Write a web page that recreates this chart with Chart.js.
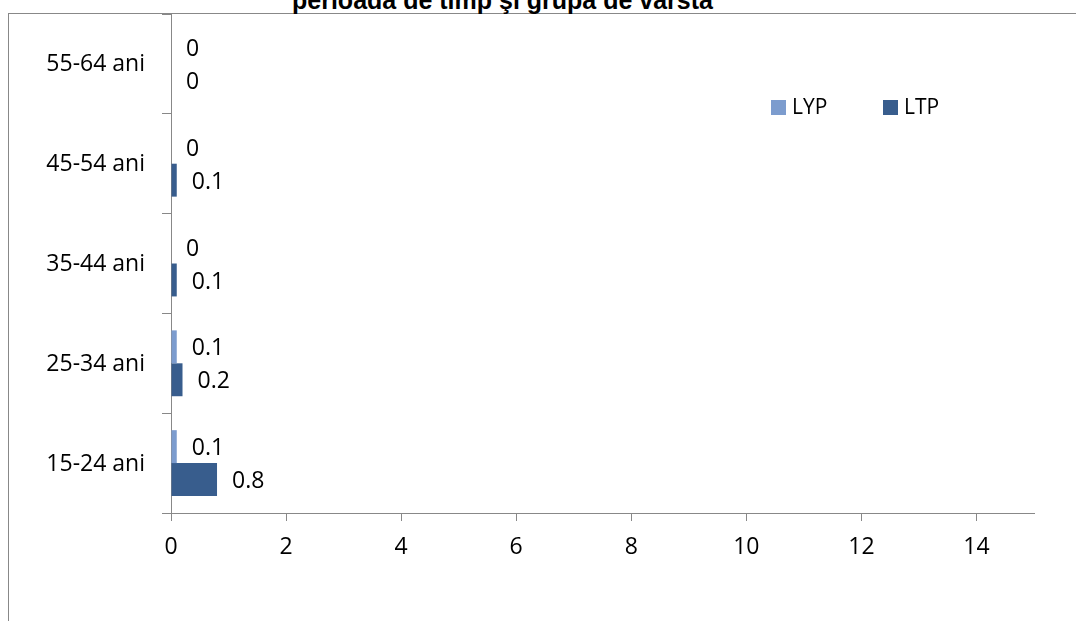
<!DOCTYPE html>
<html>
<head>
<meta charset="utf-8">
<script src="https://cdn.jsdelivr.net/npm/chart.js@4.4.0/dist/chart.umd.min.js"></script>
<style>
  html, body { margin: 0; padding: 0; background: #fff; overflow: hidden; }
  #wrap { position: relative; width: 1076px; height: 621px; overflow: hidden; }
  #frame { position: absolute; left: 8px; top: 13px; right: -2px; bottom: -2px;
           border-left: 1px solid #888; border-top: 1px solid #888; }
  #title { position: absolute; left: 0; width: 1005px; top: -14px; line-height: 28px;
           text-align: center; white-space: nowrap; color: #000;
           font: bold 25px "Liberation Sans", Arial, sans-serif; }
  canvas { position: absolute; left: 0; top: 0; }
</style>
</head>
<body>
<div id="wrap">
  <div id="frame"></div>
  <div id="title">perioada de timp şi grupa de vârsta</div>
  <canvas id="chart" width="1076" height="621"></canvas>
</div>
<script>
// Age groups, listed top to bottom
const categories = ['55-64 ani', '45-54 ani', '35-44 ani', '25-34 ani', '15-24 ani'];
const seriesNames = ['LYP', 'LTP'];
const lypValues = [0, 0, 0, 0.1, 0.1];
const ltpValues = [0, 0.1, 0.1, 0.2, 0.8];
const xTickValues = [0, 2, 4, 6, 8, 10, 12, 14];

const LABEL_FONT = '23px "Open Sans", sans-serif';
const AXIS_GREY = '#888';

// Value printed just to the right of each bar
const valueLabels = {
  id: 'valueLabels',
  afterDatasetsDraw(chart) {
    const ctx = chart.ctx;
    ctx.save();
    ctx.font = LABEL_FONT;
    ctx.fillStyle = '#000';
    ctx.textAlign = 'left';
    ctx.textBaseline = 'middle';
    chart.data.datasets.forEach((ds, i) => {
      chart.getDatasetMeta(i).data.forEach((bar, j) => {
        ctx.fillText(String(ds.data[j]), bar.x + 15, bar.y + 2);
      });
    });
    ctx.restore();
  }
};

// Legend drawn inside the plot, upper right
const innerLegend = {
  id: 'innerLegend',
  afterDraw(chart, args, opts) {
    const ctx = chart.ctx;
    ctx.save();
    ctx.font = opts.font;
    ctx.textAlign = 'left';
    ctx.textBaseline = 'middle';
    chart.data.datasets.forEach((ds, i) => {
      const x = opts.x[i];
      ctx.fillStyle = ds.backgroundColor;
      ctx.fillRect(x, opts.y, opts.box, opts.box);
      ctx.fillStyle = '#000';
      ctx.fillText(ds.label, x + opts.box + 6, opts.y + opts.box / 2 + 1);
    });
    ctx.restore();
  }
};

new Chart(document.getElementById('chart'), {
  type: 'bar',
  data: {
    labels: categories,
    datasets: [
      { label: seriesNames[0], data: lypValues, backgroundColor: '#7C9CCE' },
      { label: seriesNames[1], data: ltpValues, backgroundColor: '#385D8D' }
    ]
  },
  options: {
    indexAxis: 'y',
    responsive: false,
    devicePixelRatio: 1,
    animation: false,
    categoryPercentage: 0.66,
    barPercentage: 1.0,
    layout: { padding: { top: 14, right: 42, bottom: 0, left: 0 } },
    plugins: {
      legend: { display: false },
      title: { display: false },
      tooltip: { enabled: false },
      innerLegend: { x: [771, 883], y: 100, box: 15, font: '21px "Open Sans", sans-serif' }
    },
    scales: {
      x: {
        type: 'linear',
        position: 'bottom',
        min: 0,
        max: 15,
        ticks: { stepSize: 2, font: { family: 'Open Sans', size: 23 }, color: '#000', padding: 13 },
        afterBuildTicks(scale) {
          scale.ticks = xTickValues.map(v => ({ value: v }));
        },
        grid: { drawOnChartArea: false, drawTicks: true, tickLength: 8, color: AXIS_GREY },
        border: { color: AXIS_GREY, width: 1 },
        afterFit(scale) { scale.height = 108; scale.paddingLeft = 0; scale.paddingRight = 0; }
      },
      y: {
        type: 'category',
        grid: { offset: true, drawOnChartArea: false, drawTicks: true, tickLength: 9, color: AXIS_GREY },
        border: { color: AXIS_GREY, width: 1 },
        ticks: { font: { family: 'Open Sans', size: 23 }, color: '#000', padding: 17, labelOffset: 1 },
        afterFit(scale) { scale.width = 171; scale.paddingTop = 0; scale.paddingBottom = 0; }
      }
    }
  },
  plugins: [valueLabels, innerLegend]
});
</script>
</body>
</html>
